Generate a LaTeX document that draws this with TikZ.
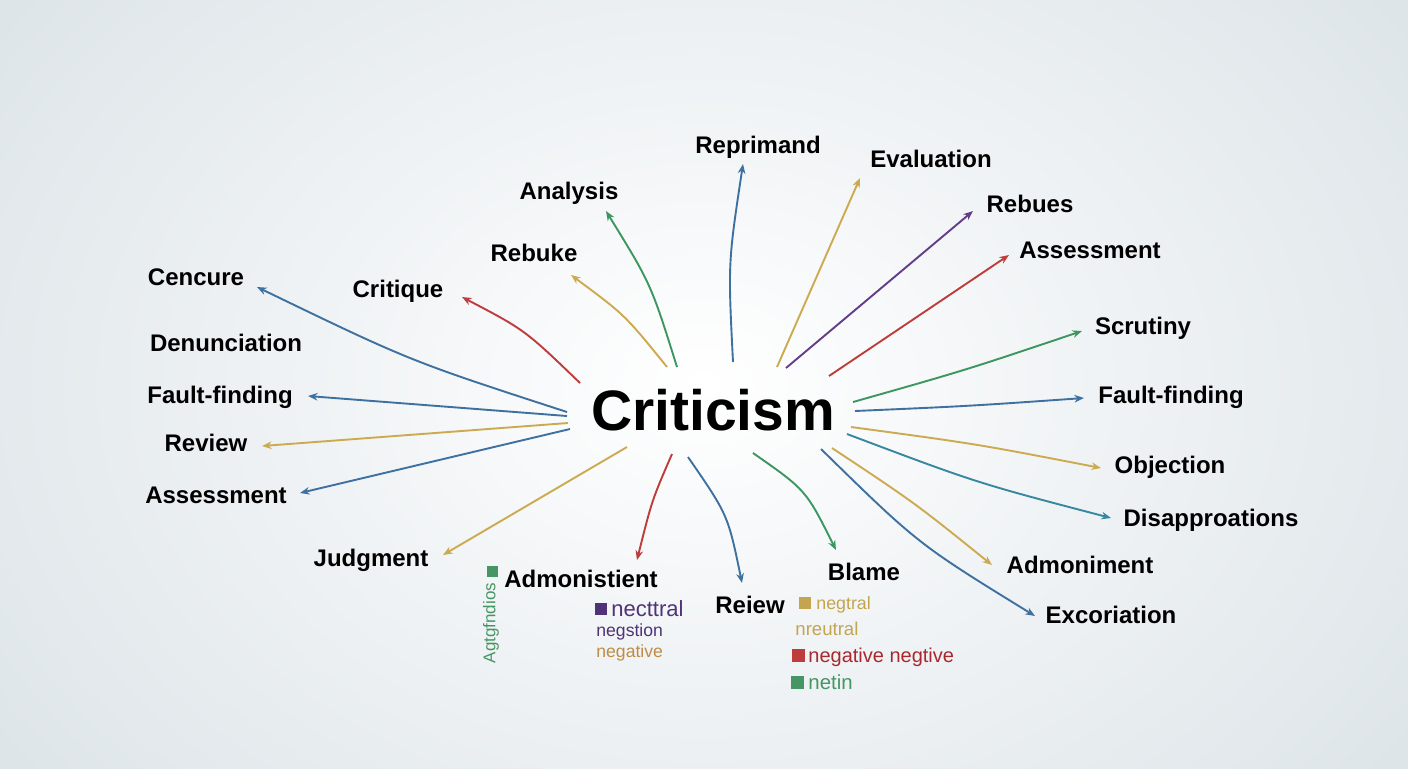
\documentclass[tikz,border=0pt]{standalone}
\usepackage{fontspec}
\setmainfont{Liberation Sans}
\usetikzlibrary{arrows.meta}
\definecolor{cblue}{RGB}{62,112,160}
\definecolor{cgold}{RGB}{204,170,80}
\definecolor{cred}{RGB}{190,60,60}
\definecolor{cgreen}{RGB}{60,150,95}
\definecolor{cpurple}{RGB}{100,60,135}
\definecolor{cteal}{RGB}{55,135,160}
\definecolor{bgedge}{RGB}{222,229,233}
\definecolor{lgreen}{RGB}{70,150,100}
\definecolor{lpurple}{RGB}{80,50,120}
\definecolor{lbrown}{RGB}{190,140,70}
\definecolor{lgold}{RGB}{195,165,80}
\definecolor{ldred}{RGB}{170,40,45}
\begin{document}
\begin{tikzpicture}[x=0.5pt,y=-0.5pt,
  lbl/.style={anchor=base,inner sep=0pt,font=\fontsize{12}{14}\selectfont\bfseries,text=black},
  conn/.style={line width=0.95pt,-{Stealth[length=4.8pt,width=3.8pt]}},
  leg/.style={anchor=base west,inner sep=0pt},
  sq/.style={inner sep=0pt,minimum size=5.5pt}]
\useasboundingbox (0,0) rectangle (1408,768);
\begin{scope}
\clip (0,0) rectangle (1408,768);
\shade[inner color=white,outer color=bgedge] (-150,-250) rectangle (1558,1018);
\end{scope}
% centre
\node[anchor=base,inner sep=0pt,font=\fontsize{28.5}{30}\selectfont\bfseries] (crit) at (713,430) {Criticism};
% labels
\node[lbl] (cencure) at (196,285) {Cencure};
\node[lbl] (critique) at (398,297) {Critique};
\node[lbl] (denun) at (226,351) {Denunciation};
\node[lbl] (faultl) at (220,403) {Fault-finding};
\node[lbl] (reviewl) at (206,451) {Review};
\node[lbl] (assessl) at (216,503) {Assessment};
\node[lbl] (judg) at (371,566) {Judgment};
\node[lbl] (rebuke) at (534,261) {Rebuke};
\node[lbl] (analysis) at (569,199) {Analysis};
\node[lbl] (repri) at (758,153) {Reprimand};
\node[lbl] (evalu) at (931,167) {Evaluation};
\node[lbl] (rebues) at (1030,212) {Rebues};
\node[lbl] (assessr) at (1090,258) {Assessment};
\node[lbl] (scrut) at (1143,334) {Scrutiny};
\node[lbl] (faultr) at (1171,403) {Fault-finding};
\node[lbl] (objec) at (1170,473) {Objection};
\node[lbl] (disap) at (1211,526) {Disapproations};
\node[lbl] (admoni) at (1080,573) {Admoniment};
\node[lbl] (blame) at (864,580) {Blame};
\node[lbl] (admonist) at (581,587) {Admonistient};
\node[lbl] (reiew) at (750,613) {Reiew};
\node[lbl] (excor) at (1111,623) {Excoriation};
% start and end points
\coordinate (s1) at (567,412); \coordinate (e1) at (257,287);
\coordinate (s2) at (567,416); \coordinate (e2) at (308,396);
\coordinate (s3) at (568,423); \coordinate (e3) at (262,446);
\coordinate (s4) at (570,429); \coordinate (e4) at (300,493);
\coordinate (s5) at (627,447); \coordinate (e5) at (443,555);
\coordinate (s6) at (580,383); \coordinate (e6) at (462,297);
\coordinate (s7) at (667,367); \coordinate (e7) at (571,275);
\coordinate (s8) at (677,367); \coordinate (e8) at (606,211);
\coordinate (s9) at (733,362); \coordinate (e9) at (743,164);
\coordinate (s10) at (777,367); \coordinate (e10) at (860,178);
\coordinate (s11) at (786,368); \coordinate (e11) at (973,211);
\coordinate (s12) at (829,376); \coordinate (e12) at (1009,255);
\coordinate (s13) at (853,402); \coordinate (e13) at (1082,331);
\coordinate (s14) at (855,411); \coordinate (e14) at (1084,398);
\coordinate (s15) at (851,427); \coordinate (e15) at (1101,468);
\coordinate (s16) at (847,434); \coordinate (e16) at (1111,518);
\coordinate (s17) at (832,448); \coordinate (e17) at (992,565);
\coordinate (s18) at (821,449); \coordinate (e18) at (1035,616);
\coordinate (s19) at (753,453); \coordinate (e19) at (836,550);
\coordinate (s20) at (688,457); \coordinate (e20) at (742,583);
\coordinate (s21) at (672,454); \coordinate (e21) at (637,560);
% connectors
\draw[conn,cblue] (s1) .. controls (410,361) .. (e1);
\draw[conn,cblue] (s2) -- (e2);
\draw[conn,cgold] (s3) -- (e3);
\draw[conn,cblue] (s4) -- (e4);
\draw[conn,cgold] (s5) .. controls (537,499) .. (e5);
\draw[conn,cred] (s6) .. controls (525,330) .. (e6);
\draw[conn,cgold] (s7) .. controls (625,315) .. (e7);
\draw[conn,cgreen] (s8) .. controls (651,284) .. (e8);
\draw[conn,cblue] (s9) .. controls (728,263) .. (e9);
\draw[conn,cgold] (s10) -- (e10);
\draw[conn,cpurple] (s11) -- (e11);
\draw[conn,cred] (s12) -- (e12);
\draw[conn,cgreen] (s13) .. controls (966,370) .. (e13);
\draw[conn,cblue] (s14) .. controls (970,406) .. (e14);
\draw[conn,cgold] (s15) .. controls (977,444) .. (e15);
\draw[conn,cteal] (s16) .. controls (977,483) .. (e16);
\draw[conn,cgold] (s17) .. controls (915,503) .. (e17);
\draw[conn,cblue] (s18) .. controls (918,544) .. (e18);
\draw[conn,cgreen] (s19) .. controls (806,490) .. (e19);
\draw[conn,cblue] (s20) .. controls (728,515) .. (e20);
\draw[conn,cred] (s21) .. controls (652,500) .. (e21);
% legend fragments
\node[sq,fill=lgreen] (gsq1) at (492,571) {};
\node[inner sep=0pt,rotate=90,text=lgreen,font=\fontsize{8.5}{10}\selectfont] (agt) at (491,623) {Agtgfndios};
\node[sq,fill=lpurple,minimum size=6pt] (psq) at (601,609) {};
\node[leg,text=lpurple,font=\fontsize{11}{12}\selectfont] (nect) at (611,616) {necttral};
\node[leg,text=lpurple,font=\fontsize{8.8}{10}\selectfont] (negst) at (596,636) {negstion};
\node[leg,text=lbrown,font=\fontsize{8.8}{10}\selectfont] (negat) at (596,657) {negative};
\node[sq,fill=lgold,minimum size=6pt] (gsq) at (805,603) {};
\node[leg,text=lgold,font=\fontsize{8.9}{10}\selectfont] (negtr) at (816,609) {negtral};
\node[leg,text=lgold,font=\fontsize{9.3}{10}\selectfont] (nreu) at (795,635) {nreutral};
\node[sq,fill=cred,minimum size=6.5pt] (rsq) at (798,655) {};
\node[leg,text=ldred,font=\fontsize{10}{11}\selectfont] (negneg) at (808,662) {negative negtive};
\node[sq,fill=lgreen,minimum size=6.5pt] (gsq2) at (797,682) {};
\node[leg,text=lgreen,font=\fontsize{10.2}{11}\selectfont] (netin) at (808,689) {netin};
\end{tikzpicture}
\end{document}
